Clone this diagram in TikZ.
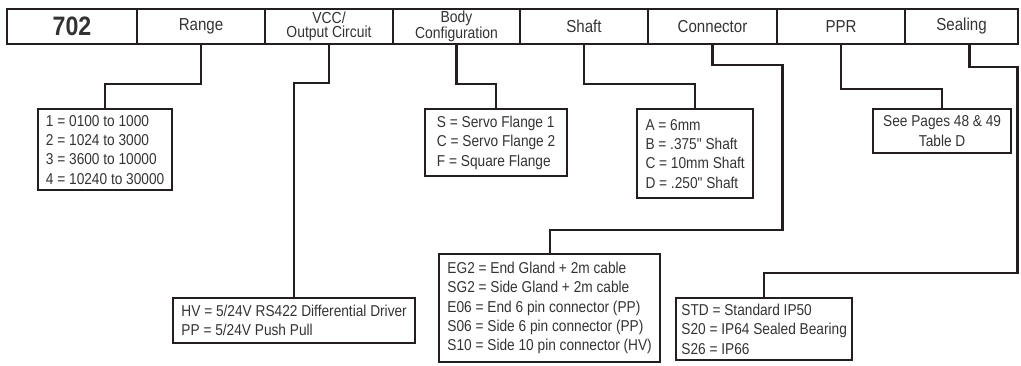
\documentclass[tikz,border=0pt]{standalone}
\usepackage{fontspec}
\setmainfont{Liberation Sans}
\newfontfamily\narrowsans{Liberation Sans}[FakeStretch=0.87]
\usetikzlibrary{positioning}
\definecolor{ink}{HTML}{231F20}
\definecolor{txt}{HTML}{333333}

\begin{document}
\begin{tikzpicture}[x=0.75pt,y=-0.75pt,
    cell/.style={draw=ink,line width=1.7pt,outer sep=0pt,inner sep=0pt,minimum height=26.25pt,
      text=txt,align=center,font=\narrowsans\fontsize{13}{10.5}\selectfont},
    twoline/.style={font=\narrowsans\fontsize{12}{10.8}\selectfont},
    optbox/.style={draw=ink,line width=1.7pt,anchor=north west,inner xsep=2pt,inner ysep=0pt,
      align=left,text=txt,font=\narrowsans\fontsize{11.8}{14.5}\selectfont},
    link/.style={draw=ink,line width=1.7pt}]
    \useasboundingbox (0,0) rectangle (1021,365);
    % Header row
    \node[cell,anchor=west,minimum width=97.5pt,font=\narrowsans\bfseries\fontsize{20}{20}\selectfont] (code) at (7,26.5) {702};
    \node[cell,minimum width=96pt,right=0pt of code] (range) {Range};
    \node[cell,twoline,minimum width=96pt,right=0pt of range] (vcc) {VCC/\\Output Circuit};
    \node[cell,twoline,minimum width=95.25pt,right=0pt of vcc] (body) {Body\\Configuration};
    \node[cell,minimum width=96pt,right=0pt of body] (shaft) {Shaft};
    \node[cell,minimum width=96.75pt,right=0pt of shaft] (conn) {Connector};
    \node[cell,minimum width=96pt,right=0pt of conn] (ppr) {PPR};
    \node[cell,minimum width=84.75pt,right=0pt of ppr] (seal) {Sealing};
    % Option boxes
    \node[optbox,minimum width=100.5pt,minimum height=60.75pt] (rangebox) at (37,108)
      {1 = 0100 to 1000\\2 = 1024 to 3000\\3 = 3600 to 10000\\4 = 10240 to 30000};
    \node[optbox,minimum width=106.5pt,minimum height=50.25pt] (bodybox) at (424,108)
      {S = Servo Flange 1\\C = Servo Flange 2\\F = Square Flange};
    \node[optbox,minimum width=87pt,minimum height=66.75pt] (shaftbox) at (636,108)
      {A = 6mm\\B = .375" Shaft\\C = 10mm Shaft\\D = .250" Shaft};
    \node[optbox,align=center,minimum width=103.5pt,minimum height=33pt] (pprbox) at (872,108)
      {See Pages 48 \& 49\\Table D};
    \node[optbox,minimum width=181.5pt,minimum height=33.75pt] (vccbox) at (172,297)
      {HV = 5/24V RS422 Differential Driver\\PP = 5/24V Push Pull};
    \node[optbox,minimum width=165.75pt,minimum height=81pt] (connbox) at (438,253)
      {EG2 = End Gland + 2m cable\\SG2 = Side Gland + 2m cable\\E06 = End 6 pin connector (PP)\\S06 = Side 6 pin connector (PP)\\S10 = Side 10 pin connector (HV)};
    \node[optbox,minimum width=132pt,minimum height=46.5pt] (sealbox) at (675,297)
      {STD = Standard IP50\\S20 = IP64 Sealed Bearing\\S26 = IP66};
    % Connectors
    \draw[link] (range.south) -- ++(0,40) -| (rangebox.north);
    \draw[link] (vcc.south) -- ++(0,39) -| (vccbox.north);
    \draw[link] (body.south) -- ++(0,40) -| (bodybox.north);
    \draw[link] (shaft.south) -- ++(0,40) -| (shaftbox.north);
    \draw[link] (conn.south) -- ++(0,21) -| ++(70,165) -| (connbox.north);
    \draw[link] (ppr.south) -- ++(0,45) -| (pprbox.north);
    \draw[link] ([xshift=6pt]seal.south) -- ++(0,23) -| ++(48,206) -| (sealbox.north);
\end{tikzpicture}
\end{document}
